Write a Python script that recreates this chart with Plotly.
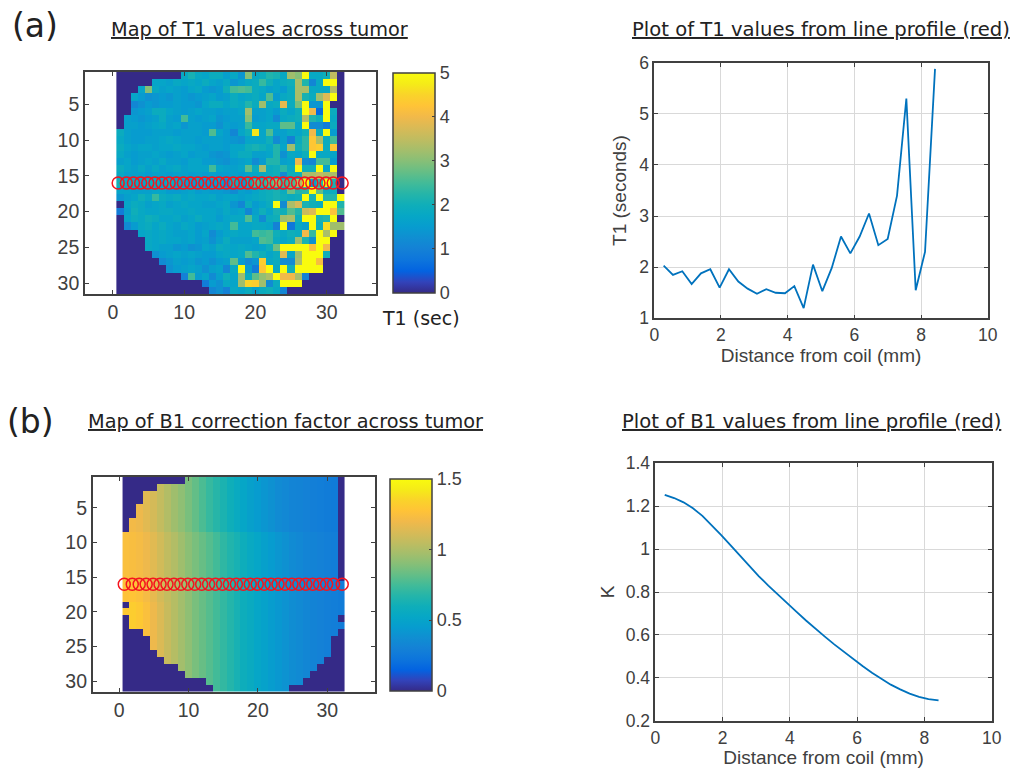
import plotly.graph_objects as go

DIST_MM = [0.28, 0.56, 0.84, 1.12, 1.40, 1.68, 1.96, 2.24, 2.52, 2.80, 3.08, 3.36, 3.64, 3.92, 4.20,
           4.48, 4.76, 5.04, 5.32, 5.60, 5.88, 6.16, 6.44, 6.72, 7.00, 7.28, 7.56, 7.84, 8.12, 8.42]
T1_PROFILE = [2.03, 1.85, 1.92, 1.67, 1.88, 1.96, 1.60, 1.96, 1.72, 1.58, 1.48, 1.57, 1.50, 1.49, 1.63,
              1.20, 2.05, 1.53, 1.98, 2.60, 2.27, 2.60, 3.05, 2.43, 2.55, 3.40, 5.30, 1.55, 2.30, 5.88]
K_PROFILE = [1.253, 1.238, 1.218, 1.190, 1.155, 1.112, 1.065, 1.017, 0.968, 0.920, 0.873, 0.830, 0.788,
             0.747, 0.707, 0.667, 0.628, 0.592, 0.556, 0.521, 0.487, 0.455, 0.424, 0.394, 0.368, 0.346,
             0.326, 0.311, 0.301, 0.295]

LINE_X = [0.75, 1.9, 2.9, 3.9, 4.9, 5.9, 6.9, 7.9, 8.9, 9.9, 10.9, 11.9, 12.9, 13.9, 14.9, 15.9,
          16.9, 17.9, 18.9, 19.9, 20.9, 21.9, 22.9, 23.9, 24.9, 25.9, 26.9, 27.9, 28.9, 29.9, 30.9, 32.15]
LINE_Y = [16] * 32

T1_MAP = [
 [0,0,0,0,0,0,0,0,0,1.8,2.1,1.8,1.7,1.9,1.9,1.6,1.8,1.4,3.0,1.8,1.9,2.2,2.1,1.8,3.2,3.0,5.0,1.8,1.8,2.0,3.5,0],
 [0,0,0,0,0,1.7,1.7,1.6,1.8,1.7,1.8,1.7,1.9,1.7,1.6,1.8,1.4,1.6,1.8,1.9,2.4,2.0,1.7,1.9,2.0,3.3,2.2,1.1,1.8,5.0,5.0,0],
 [0,0,0,1.7,3.0,1.8,1.6,1.7,1.6,1.5,1.7,1.8,1.5,1.4,1.5,2.0,2.5,2.6,2.5,1.9,1.8,1.6,1.7,1.5,1.9,3.3,3.3,1.8,1.8,1.8,3.4,0],
 [0,0,1.7,1.5,1.3,1.4,1.5,1.4,1.6,1.5,1.4,1.5,1.6,1.7,1.5,1.6,1.9,1.7,1.8,1.9,1.7,2.6,1.5,1.8,1.9,3.3,2.1,1.9,3.2,3.8,5.0,0],
 [0,0,1.1,1.3,1.5,1.4,1.5,1.5,1.6,1.5,1.5,1.4,1.7,1.9,1.9,1.7,1.9,1.8,2.2,1.9,3.2,1.8,1.9,3.9,1.9,2.9,5.0,1.4,1.4,5.0,0,0],
 [0,0,1.4,1.5,1.6,1.9,1.9,1.7,1.6,1.5,1.6,1.7,1.6,1.6,1.5,1.6,1.6,1.7,3.2,1.6,1.6,1.7,1.5,1.9,1.7,2.0,5.0,4.0,0.6,5.0,1.9,0],
 [0,1.6,1.5,1.4,1.5,1.6,1.9,1.6,1.5,2.5,1.6,1.5,1.6,1.7,1.4,1.5,1.6,1.6,3.0,1.5,1.6,1.7,1.2,1.8,1.9,2.0,3.4,2.2,2.0,5.0,1.8,0],
 [0,1.6,1.6,1.5,1.6,1.7,1.8,1.6,1.7,1.4,1.6,1.6,1.5,1.5,1.3,1.6,1.5,1.6,2.4,1.7,1.7,1.8,1.8,2.7,2.7,1.8,5.0,1.2,1.2,0.9,1.9,0],
 [1.9,1.6,1.5,1.5,1.5,1.6,1.6,1.6,1.5,1.6,1.6,1.6,1.5,2.6,1.7,1.5,1.1,1.7,2.0,4.7,1.7,2.6,1.6,1.6,1.8,1.7,2.0,4.0,1.9,5.0,1.5,0],
 [1.8,1.6,1.5,1.5,1.6,1.6,1.7,1.8,1.7,1.6,1.6,1.5,1.6,1.6,1.6,1.5,1.4,1.3,1.7,1.7,1.7,2.0,1.2,1.6,1.0,1.9,2.3,4.3,3.3,1.9,2.5,0],
 [1.9,1.7,1.6,1.7,1.7,1.6,1.7,1.7,1.8,1.7,1.7,1.6,1.5,1.6,1.6,1.5,1.7,1.7,2.0,2.1,2.0,1.8,2.2,1.7,3.2,2.0,2.3,4.3,4.4,1.9,4.3,0],
 [1.8,1.6,1.5,1.6,1.6,1.7,1.6,1.5,1.6,1.7,1.5,1.6,1.6,1.4,1.3,1.4,1.7,1.9,1.9,1.6,1.6,1.7,2.2,1.3,1.8,1.7,2.0,5.0,1.8,1.8,1.7,0],
 [1.6,1.7,1.5,1.6,1.7,1.6,1.8,1.6,1.6,1.5,1.7,1.7,1.5,1.5,1.4,1.3,1.5,1.6,1.7,1.2,1.5,2.2,2.2,1.6,1.7,4.0,1.2,1.1,2.5,2.5,1.5,0],
 [1.9,1.7,1.6,1.8,1.6,1.8,1.6,1.7,1.8,1.6,1.7,1.7,1.7,2.5,1.7,1.6,1.6,1.7,2.7,1.9,3.3,1.9,2.0,2.3,1.9,4.9,2.0,2.0,5.0,1.7,5.0,0],
 [1.8,1.6,1.6,1.6,1.5,1.6,1.6,1.5,1.6,1.6,1.5,1.6,1.5,1.6,1.5,1.5,1.6,1.5,1.7,1.7,1.8,1.9,2.0,1.2,2.0,2.0,3.3,3.3,3.5,3.3,3.3,0],
 [2.03,1.85,1.92,1.67,1.88,1.96,1.60,1.96,1.72,1.58,1.48,1.57,1.50,1.49,1.63,1.20,2.05,1.53,1.98,2.60,2.27,2.60,3.05,2.43,2.55,3.40,5.30,1.55,2.30,5.88,2.1,0],
 [1.7,1.7,1.6,1.6,1.6,1.7,1.7,1.5,1.5,1.6,1.7,1.5,1.6,1.5,1.5,1.4,1.2,1.6,1.5,1.7,1.9,2.0,2.1,1.9,2.8,2.2,2.3,5.0,2.7,1.9,1.9,0],
 [1.4,1.6,1.7,2.0,1.8,2.4,1.9,1.8,1.9,1.7,1.8,1.7,1.7,1.8,1.6,1.7,1.7,1.6,1.7,1.8,1.9,2.0,2.1,2.0,1.9,2.0,5.0,2.1,5.0,2.2,2.2,5.0],
 [0,1.7,1.9,1.8,1.6,1.7,1.8,1.6,1.7,1.8,1.7,1.7,1.6,1.6,1.7,1.8,1.4,1.1,1.9,1.5,1.7,1.9,5.0,1.2,3.3,3.7,2.1,2.0,1.9,5.0,5.0,2.2],
 [0.9,1.6,2.0,1.8,1.7,1.7,1.8,1.8,1.7,1.7,1.8,1.7,1.7,1.7,1.6,1.8,1.6,1.7,1.1,1.6,2.0,1.7,2.1,2.0,2.6,2.2,3.6,3.8,5.0,5.0,4.2,2.6],
 [0,1.7,1.9,1.8,2.0,1.9,1.7,1.7,1.8,1.6,1.7,1.9,1.7,1.7,1.5,1.7,1.8,1.8,2.6,1.8,1.2,1.9,2.0,3.2,3.3,2.0,5.0,5.0,2.1,2.2,5.0,0],
 [0,1.2,1.5,1.8,1.9,1.7,1.9,1.7,1.6,1.8,1.7,1.5,1.6,1.7,1.8,1.7,2.5,1.7,1.7,1.8,1.8,1.7,1.0,5.0,0.8,1.8,1.6,5.0,2.0,4.6,3.2,3.2],
 [0,0,0,1.7,1.8,1.7,1.8,1.7,1.6,1.6,1.7,1.5,1.7,1.2,1.5,1.7,1.8,1.7,1.7,2.5,2.4,2.5,2.0,1.8,2.0,1.9,4.0,2.4,5.0,3.3,5.0,0],
 [0,0,0,0,1.8,1.7,1.8,1.7,1.7,1.6,1.7,1.5,1.6,1.3,1.6,1.9,1.6,1.6,1.6,1.7,2.6,2.5,1.9,1.7,1.9,3.2,2.1,1.3,5.0,5.0,0,0],
 [0,0,0,0,1.8,1.7,1.6,1.6,1.4,1.5,1.3,1.4,1.7,1.6,1.9,1.8,1.7,1.8,1.7,1.6,1.7,2.0,2.8,5.0,5.0,5.0,5.0,4.2,5.0,4.0,0,0],
 [0,0,0,0,0,1.3,1.5,1.6,1.7,1.6,1.7,1.6,1.5,1.5,1.7,1.8,1.7,1.8,2.6,2.2,2.0,1.7,1.9,3.8,1.7,3.2,5.0,5.0,5.0,2.0,0,0],
 [0,0,0,0,0,0,1.2,1.4,1.6,1.5,1.6,1.4,1.5,1.3,1.5,1.6,2.7,1.5,1.2,1.4,4.4,1.8,1.9,1.2,1.2,3.3,5.0,5.0,4.1,0,0,0],
 [0,0,0,0,0,0,0,1.3,1.5,1.6,1.7,1.6,1.3,1.6,1.7,1.1,1.8,5.0,1.5,0.9,4.3,5.0,1.8,5.0,2.0,5.0,5.0,5.0,5.0,0,0,0],
 [0,0,0,0,0,0,0,0,0,1.0,2.5,1.5,1.7,1.2,1.6,2.0,1.7,3.2,1.9,2.7,3.1,3.3,5.0,4.0,4.0,3.3,1.0,0,0,0,0,0],
 [0,0,0,0,0,0,0,0,0,0,0,0,0.9,1.5,1.3,1.8,1.7,3.2,4.5,4.4,3.2,1.2,1.9,5.0,5.0,5.0,0,0,0,0,0,0],
 [0,0,0,0,0,0,0,0,0,0,0,0,0,1.1,1.3,1.0,1.8,1.7,1.9,1.6,1.9,2.0,1.8,1.1,0,0,0,0,0,0,0,0],
]

# B1 map: readings along a row in four parts of the tumor, from top to bottom
B1_TOP = [1.23, 1.21, 1.19, 1.15, 1.11, 1.06, 1.01, 0.96, 0.92, 0.87, 0.82, 0.77, 0.72, 0.68, 0.64, 0.60,
          0.56, 0.52, 0.48, 0.45, 0.42, 0.39, 0.36, 0.34, 0.32, 0.31, 0.30, 0.29, 0.28, 0.27, 0.26, 0.25]
B1_MID = [1.25, 1.24, 1.22, 1.19, 1.15, 1.10, 1.05, 1.01, 0.96, 0.91, 0.87, 0.83, 0.79, 0.75, 0.70, 0.66,
          0.63, 0.59, 0.55, 0.52, 0.48, 0.45, 0.42, 0.39, 0.36, 0.34, 0.32, 0.31, 0.30, 0.29, 0.28, 0.27]
B1_NEAR = [1.27, 1.28, 1.26, 1.22, 1.17, 1.11, 1.06, 1.02, 0.97, 0.92, 0.87, 0.83, 0.79, 0.75, 0.71, 0.67,
           0.63, 0.59, 0.56, 0.52, 0.49, 0.46, 0.43, 0.40, 0.37, 0.35, 0.33, 0.31, 0.30, 0.29, 0.28, 0.27]
B1_LOW = [1.30, 1.32, 1.30, 1.25, 1.19, 1.13, 1.07, 1.02, 0.97, 0.92, 0.87, 0.83, 0.79, 0.75, 0.71, 0.67,
          0.63, 0.59, 0.56, 0.52, 0.49, 0.46, 0.43, 0.40, 0.37, 0.35, 0.33, 0.31, 0.30, 0.29, 0.28, 0.27]
B1_ROW_PROFILE = ["T"] * 8 + ["M"] * 7 + ["N"] * 3 + ["L"] * 13
B1_ROW_FIRST = [10, 6, 4, 4, 3, 3, 2, 2, 1, 1, 1, 1, 1, 1, 1, 1, 1, 1, 2, 1, 2, 2, 4, 5, 5, 6, 7, 9, 10, 13, 14]
B1_ROW_LAST = [31, 31, 31, 31, 31, 31, 31, 31, 31, 31, 31, 31, 31, 31, 31, 32, 32, 32, 32, 32, 31, 32, 31, 30, 30,
               30, 29, 28, 27, 26, 24]

COLS = list(range(1, 33))
ROWS = list(range(1, 32))
for r in T1_MAP:
    assert len(r) == 32, r
assert len(T1_MAP) == 31

_prof = {"T": B1_TOP, "M": B1_MID, "N": B1_NEAR, "L": B1_LOW}
B1_MAP = [[_prof[p][c - 1] if a <= c <= b else 0 for c in COLS]
          for p, a, b in zip(B1_ROW_PROFILE, B1_ROW_FIRST, B1_ROW_LAST)]

PARULA = [(0.2081, 0.1663, 0.5292), (0.1959, 0.2645, 0.7279), (0.0117, 0.3875, 0.8820), (0.0498, 0.4586, 0.8641),
          (0.0779, 0.5040, 0.8384), (0.0641, 0.5570, 0.8240), (0.0265, 0.6137, 0.8135), (0.0228, 0.6535, 0.7768),
          (0.0590, 0.6838, 0.7254), (0.1453, 0.7098, 0.6646), (0.2586, 0.7317, 0.5954), (0.3953, 0.7459, 0.5244),
          (0.5300, 0.7491, 0.4661), (0.6473, 0.7456, 0.4188), (0.7525, 0.7384, 0.3768), (0.8507, 0.7299, 0.3360),
          (0.9450, 0.7261, 0.2886), (0.9990, 0.7653, 0.2164), (0.9789, 0.8271, 0.1633), (0.9598, 0.9218, 0.0948),
          (0.9763, 0.9831, 0.0538)]
CS = [[i / (len(PARULA) - 1), f"rgb({round(r*255)},{round(g*255)},{round(b*255)})"] for i, (r, g, b) in enumerate(PARULA)]

W, H = 1013, 769
INK = "#404040"
HELV = "Liberation Sans, Arial, sans-serif"
VERD = "DejaVu Sans, Verdana, sans-serif"


def dom_x(a, b):
    return [a / W, b / W]


def dom_y(top, bot):
    return [1 - bot / H, 1 - top / H]


fig = go.Figure()


def cbar(x0, x1, top, bot, vals, texts):
    return dict(thickness=x1 - x0, thicknessmode="pixels", len=bot - top, lenmode="pixels",
                x=x0 / W, xanchor="left", y=1 - bot / H, yanchor="bottom", xpad=0, ypad=0,
                outlinecolor=INK, outlinewidth=1.5, ticks="inside", ticklen=3, tickcolor=INK, tickwidth=1,
                tickvals=vals, ticktext=texts, tickfont=dict(family=HELV, size=18, color=INK))


RED = "#f5141e"
fig.add_trace(go.Heatmap(z=T1_MAP, x=COLS, y=ROWS, zmin=0, zmax=5, colorscale=CS, xaxis="x", yaxis="y",
                         colorbar=cbar(392.7, 434.7, 72.7, 292.7, [0, 1, 2, 3, 4, 5], ["0", "1", "2", "3", "4", "5"])))
fig.add_trace(go.Scatter(x=LINE_X, y=LINE_Y, mode="markers", xaxis="x", yaxis="y", showlegend=False,
                         marker=dict(symbol="circle-open", size=12, color=RED, line=dict(width=1.5, color=RED))))
fig.add_trace(go.Scatter(x=DIST_MM, y=T1_PROFILE, mode="lines", xaxis="x2", yaxis="y2", showlegend=False,
                         line=dict(color="#0072BD", width=1.8)))
fig.add_trace(go.Heatmap(z=B1_MAP, x=COLS, y=ROWS, zmin=0, zmax=1.5, colorscale=CS, xaxis="x3", yaxis="y3",
                         colorbar=cbar(390, 431.7, 479, 690.7, [0, 0.5, 1, 1.5], ["0", "0.5", "1", "1.5"])))
fig.add_trace(go.Scatter(x=LINE_X, y=LINE_Y, mode="markers", xaxis="x3", yaxis="y3", showlegend=False,
                         marker=dict(symbol="circle-open", size=12, color=RED, line=dict(width=1.5, color=RED))))
fig.add_trace(go.Scatter(x=DIST_MM, y=K_PROFILE, mode="lines", xaxis="x4", yaxis="y4", showlegend=False,
                         line=dict(color="#0072BD", width=1.8)))


def axis(domain, rng, vals, size, anchor, grid=False, title=None, standoff=None, texts=None):
    d = dict(domain=domain, range=rng, tickvals=vals, ticks="inside", ticklen=4, tickcolor=INK, tickwidth=1.2,
             showline=True, linecolor=INK, linewidth=1.6, mirror="ticks", showgrid=grid, gridcolor="#d9d9d9",
             gridwidth=1.2, zeroline=False, anchor=anchor, tickfont=dict(family=HELV, size=size, color=INK))
    if texts:
        d["ticktext"] = texts
    if title:
        d["title"] = dict(text=title, standoff=standoff, font=dict(family=HELV, size=19, color=INK))
    return d


layout = dict(
    width=W, height=H, margin=dict(l=0, r=0, t=0, b=0, autoexpand=False), paper_bgcolor="white", plot_bgcolor="white",
    showlegend=False,
    xaxis=axis(dom_x(85, 376), [-3.9, 36.9], [0, 10, 20, 30], 19.5, "y"),
    yaxis=axis(dom_y(72, 294), [31.5, 0.5], [5, 10, 15, 20, 25, 30], 19.5, "x"),
    xaxis2=axis(dom_x(654.3, 987.7), [0, 10], [0, 2, 4, 6, 8, 10], 17.5, "y2", True, "Distance from coil (mm)", 4),
    yaxis2=axis(dom_y(62.7, 318.3), [1, 6], [1, 2, 3, 4, 5, 6], 17.5, "x2", True, "T1 (seconds)", 8),
    xaxis3=axis(dom_x(92.7, 374.5), [-3.8, 36.8], [0, 10, 20, 30], 19.5, "y3"),
    yaxis3=axis(dom_y(476.7, 691.7), [31.5, 0.5], [5, 10, 15, 20, 25, 30], 19.5, "x3"),
    xaxis4=axis(dom_x(655.3, 991.7), [0, 10], [0, 2, 4, 6, 8, 10], 17.5, "y4", True, "Distance from coil (mm)", 3),
    yaxis4=axis(dom_y(463.3, 720.7), [0.2, 1.4], [0.2, 0.4, 0.6, 0.8, 1, 1.2, 1.4], 17.5, "x4", True, "K", 6,
                ["0.2", "0.4", "0.6", "0.8", "1", "1.2", "1.4"]),
)


def note(text, x, y, size, under=False, family=VERD, color="#222222"):
    f = dict(family=family, size=size, color=color)
    if under:
        f["lineposition"] = "under"
    return dict(text=text, x=x / W, y=1 - y / H, xref="paper", yref="paper", showarrow=False,
                xanchor="center", yanchor="middle", font=f)


layout["annotations"] = [
    note("(a)", 35, 26, 33),
    note("(b)", 30, 421, 33),
    note("Map of T1 values across tumor", 259, 29, 19.3, True),
    note("Plot of T1 values from line profile (red)", 820.5, 29, 19.6, True),
    note("Map of B1 correction factor across tumor", 285, 421, 19.3, True),
    note("Plot of B1 values from line profile (red)", 811, 421, 19.6, True),
    note("T1 (sec)", 421, 318, 19),
]
fig.update_layout(**layout)
fig.write_html("out.html", config={"displayModeBar": False}, post_script="document.body.style.margin='0';")
